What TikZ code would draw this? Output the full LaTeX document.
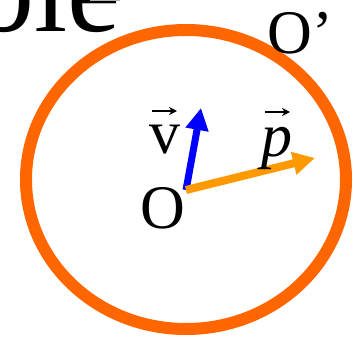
\documentclass[tikz,border=0pt]{standalone}
\usepackage{fontspec}
\setmainfont{Liberation Serif}
\usetikzlibrary{arrows.meta}
\begin{document}
\begin{tikzpicture}[x=1pt, y=-1pt, >={Triangle[length=22pt, width=22pt]}, font=\fontsize{62}{62}\selectfont]
			\definecolor{ringorange}{RGB}{255, 102, 0}
			\definecolor{momorange}{RGB}{255, 153, 0}
			\tikzset{vecbar/.style={-{Stealth[length=8pt, width=8pt]}, line width=1.6pt, black}}
			\useasboundingbox (0,0) rectangle (353,342);
			\clip (0,0) rectangle (353,342);
			\node[anchor=base east, inner sep=0pt, font=\fontsize{120}{120}\selectfont] (title) at (121,32) {ble};
			\draw[gray!60, line width=1pt] (90,0.5) -- (120,0.5);
			\draw[ringorange, line width=12pt] (186,179.5) circle[x radius=160pt, y radius=149.5pt];
			\coordinate (O) at (186,190);
			\coordinate (vtip) at (201,108);
			\coordinate (ptip) at (315,158);
			\draw[->, blue, line width=7pt] (O) -- (vtip);
			\draw[->, momorange, line width=8pt] (O) -- (ptip);
			\node[inner sep=0pt] (origin) at (163,208) {O};
			\node[inner sep=0pt, anchor=base] (vlabel) at (165,153) {v};
			\node[inner sep=0pt, anchor=base] (plabel) at (277,156) {\itshape p};
			\draw[vecbar] (152,111) -- (177,111);
			\draw[vecbar] (265,112) -- (290,112);
			\node[inner sep=0pt] (Oprime) at (300,33) {O’};
		\end{tikzpicture}
\end{document}
